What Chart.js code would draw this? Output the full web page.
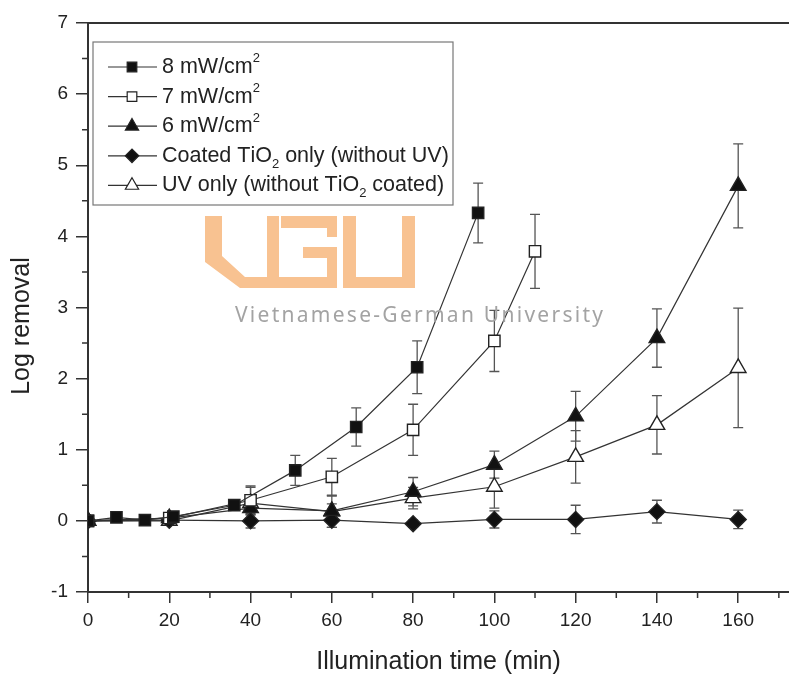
<!DOCTYPE html>
<html>
<head>
<meta charset="utf-8">
<script src="https://cdn.jsdelivr.net/npm/chart.js@4.4.1/dist/chart.umd.min.js"></script>
<style>
  html, body { margin: 0; padding: 0; background: #fff; overflow: hidden; }
  canvas { display: block; }
</style>
</head>
<body>
<canvas id="removalChart" width="789" height="675"></canvas>
<script>
// illumination times (min)
const times8 = [0, 7, 14, 21, 36, 51, 66, 81, 96];
const times7 = [0, 20, 40, 60, 80, 100, 110];
const timesLong = [0, 20, 40, 60, 80, 100, 120, 140, 160];

// log removal
const removal8 = [0, 0.05, 0.01, 0.06, 0.22, 0.71, 1.32, 2.16, 4.33];
const removal7 = [0, 0.04, 0.29, 0.62, 1.28, 2.53, 3.79];
const removal6 = [0, 0.04, 0.18, 0.14, 0.41, 0.79, 1.47, 2.57, 4.71];
const removalCoated = [0, 0.01, 0.0, 0.01, -0.04, 0.02, 0.02, 0.13, 0.02];
const removalUV = [0, 0.0, 0.25, 0.13, 0.32, 0.48, 0.9, 1.35, 2.15];

// error bar half widths
const err8 = [0, 0, 0, 0, 0.05, 0.21, 0.27, 0.37, 0.42];
const err7 = [0, 0, 0.2, 0.26, 0.36, 0.43, 0.52];
const err6 = [0, 0, 0.1, 0.1, 0.2, 0.19, 0.35, 0.41, 0.59];
const errCoated = [0, 0, 0.1, 0.1, 0.05, 0.12, 0.2, 0.16, 0.13];
const errUV = [0, 0, 0.22, 0.22, 0.15, 0.3, 0.37, 0.41, 0.84];

const seriesLabels = [
  '8 mW/cm²',
  '7 mW/cm²',
  '6 mW/cm²',
  'Coated TiO₂ only (without UV)',
  'UV only (without TiO₂ coated)',
];

const xTicks = [0, 20, 40, 60, 80, 100, 120, 140, 160];
const yTicks = [-1, 0, 1, 2, 3, 4, 5, 6, 7];
const yTitle = 'Log removal';

const toPoints = (xs, ys) => xs.map((x, i) => ({ x, y: ys[i] }));

const FONT = '"Liberation Sans", Arial, sans-serif';
Chart.defaults.font.family = FONT;
Chart.defaults.color = '#222';

function makeSet(label, xs, ys, errs, style, filled, radius) {
  return {
    label,
    data: toPoints(xs, ys),
    errors: errs,
    borderColor: '#333',
    borderWidth: 1.2,
    pointStyle: style,
    pointRadius: radius,
    pointHoverRadius: radius,
    pointBackgroundColor: filled ? '#111' : '#fff',
    pointBorderColor: '#222',
    pointBorderWidth: 1.4,
    fill: false,
    tension: 0,
  };
}

// error bars, drawn under the markers
const errorBars = {
  id: 'errorBars',
  beforeDatasetsDraw(chart) {
    const { ctx, scales: { y } } = chart;
    ctx.save();
    ctx.strokeStyle = '#555';
    ctx.lineWidth = 1.3;
    chart.data.datasets.forEach((ds, di) => {
      const meta = chart.getDatasetMeta(di);
      meta.data.forEach((pt, i) => {
        const e = ds.errors[i];
        if (!e) return;
        const v = ds.data[i].y;
        const top = y.getPixelForValue(v + e);
        const bot = y.getPixelForValue(v - e);
        ctx.beginPath();
        ctx.moveTo(pt.x, top);
        ctx.lineTo(pt.x, bot);
        ctx.moveTo(pt.x - 5, top);
        ctx.lineTo(pt.x + 5, top);
        ctx.moveTo(pt.x - 5, bot);
        ctx.lineTo(pt.x + 5, bot);
        ctx.stroke();
      });
    });
    ctx.restore();
  },
};

// top frame line, minor ticks, y title
const frameAndMinor = {
  id: 'frameAndMinor',
  afterDraw(chart) {
    const { ctx, chartArea: { left, top, right, bottom }, scales: { x, y } } = chart;
    ctx.save();
    ctx.strokeStyle = '#333';
    ctx.lineWidth = 2;
    ctx.beginPath();
    ctx.moveTo(left, top);
    ctx.lineTo(right, top);
    ctx.stroke();
    ctx.lineWidth = 1.5;
    ctx.beginPath();
    for (let t = 10; t < x.max; t += 20) {
      const px = x.getPixelForValue(t);
      ctx.moveTo(px, bottom);
      ctx.lineTo(px, bottom + 6);
    }
    for (let v = -0.5; v < y.max; v += 1) {
      const py = y.getPixelForValue(v);
      ctx.moveTo(left, py);
      ctx.lineTo(left - 6, py);
    }
    ctx.stroke();
    ctx.translate(29, 326);
    ctx.rotate(-Math.PI / 2);
    ctx.fillStyle = '#222';
    ctx.font = `25px ${FONT}`;
    ctx.textAlign = 'center';
    ctx.textBaseline = 'alphabetic';
    ctx.fillText(yTitle, 0, 0);
    ctx.restore();
  },
};

// text with ² / ₂ drawn as small raised / lowered digits
function drawRich(ctx, text, x, y, size) {
  let cx = x;
  for (const ch of text) {
    if (ch === '²' || ch === '₂') {
      ctx.font = `${Math.round(size * 0.6)}px ${FONT}`;
      const dy = ch === '²' ? -size * 0.38 : size * 0.38;
      ctx.fillText('2', cx, y + dy);
      cx += ctx.measureText('2').width;
    } else {
      ctx.font = `${size}px ${FONT}`;
      ctx.fillText(ch, cx, y);
      cx += ctx.measureText(ch).width;
    }
  }
}

const boxLegend = {
  id: 'boxLegend',
  afterDraw(chart) {
    const { ctx } = chart;
    ctx.save();
    ctx.fillStyle = '#fff';
    ctx.strokeStyle = '#777';
    ctx.lineWidth = 1.2;
    ctx.fillRect(93, 42, 360, 163);
    ctx.strokeRect(93, 42, 360, 163);
    chart.data.datasets.forEach((ds, i) => {
      const yy = 67 + i * 29.6;
      ctx.strokeStyle = '#333';
      ctx.lineWidth = 1.2;
      ctx.beginPath();
      ctx.moveTo(108, yy);
      ctx.lineTo(157, yy);
      ctx.stroke();
      ctx.fillStyle = ds.pointBackgroundColor;
      ctx.strokeStyle = ds.pointBorderColor;
      ctx.lineWidth = 1.2;
      Chart.helpers.drawPoint(ctx, {
        pointStyle: ds.pointStyle,
        radius: ds.pointRadius * 0.85,
        rotation: 0,
        borderWidth: 1.2,
      }, 132, yy);
      ctx.fillStyle = '#222';
      ctx.textBaseline = 'middle';
      ctx.textAlign = 'left';
      drawRich(ctx, ds.label, 162, yy, 21.5);
    });
    ctx.restore();
  },
};

// university watermark printed over the figure
const watermark = {
  id: 'watermark',
  afterDraw(chart) {
    const { ctx } = chart;
    ctx.save();
    ctx.fillStyle = '#f8c291';
    ctx.beginPath();
    ctx.moveTo(205, 216);
    ctx.lineTo(222, 216);
    ctx.lineTo(222, 256);
    ctx.lineTo(245, 277);
    ctx.lineTo(267, 277);
    ctx.lineTo(267, 216);
    ctx.lineTo(279, 216);
    ctx.lineTo(279, 288);
    ctx.lineTo(240, 288);
    ctx.lineTo(205, 262);
    ctx.closePath();
    ctx.fill();
    ctx.fillRect(281, 216, 56, 12);
    ctx.fillRect(327, 216, 10, 21);
    ctx.fillRect(267, 277, 70, 11);
    ctx.fillRect(327, 247, 10, 41);
    ctx.fillRect(303, 247, 34, 11);
    ctx.fillRect(343, 216, 13, 72);
    ctx.fillRect(402, 216, 13, 72);
    ctx.fillRect(343, 277, 72, 11);
    ctx.fillStyle = '#a3a3a3';
    ctx.font = '21px "Noto Sans", "DejaVu Sans", sans-serif';
    ctx.textBaseline = 'alphabetic';
    const txt = 'Vietnamese-German University';
    const w = ctx.measureText(txt).width;
    ctx.letterSpacing = `${(368 - w) / (txt.length - 1)}px`;
    ctx.fillText(txt, 235, 322);
    ctx.restore();
  },
};

const ctxMain = document.getElementById('removalChart').getContext('2d');
new Chart(ctxMain, {
  type: 'line',
  data: {
    datasets: [
      makeSet(seriesLabels[0], times8, removal8, err8, 'rect', true, 8),
      makeSet(seriesLabels[1], times7, removal7, err7, 'rect', false, 8),
      makeSet(seriesLabels[2], timesLong, removal6, err6, 'triangle', true, 9),
      makeSet(seriesLabels[3], timesLong, removalCoated, errCoated, 'rectRot', true, 8),
      makeSet(seriesLabels[4], timesLong, removalUV, errUV, 'triangle', false, 9),
    ],
  },
  options: {
    responsive: false,
    animation: false,
    devicePixelRatio: 1,
    layout: { autoPadding: false, padding: { top: 23, right: 0, left: 0, bottom: 0 } },
    scales: {
      x: {
        type: 'linear',
        min: 0,
        max: 172.5,
        afterFit: (scale) => {
          scale.height = 83;
          scale.paddingLeft = 0;
          scale.paddingRight = 0;
        },
        afterBuildTicks: (scale) => { scale.ticks = xTicks.map((v) => ({ value: v })); },
        grid: { drawOnChartArea: false, tickLength: 11, color: '#333', lineWidth: 1.5 },
        border: { color: '#333', width: 2 },
        ticks: { font: { size: 19 }, padding: 6, maxRotation: 0, color: '#222' },
        title: {
          display: true,
          text: 'Illumination time (min)',
          font: { size: 25, lineHeight: 1 },
          padding: { top: 1, bottom: 0 },
          color: '#222',
        },
      },
      y: {
        min: -1,
        max: 7,
        afterFit: (scale) => {
          scale.width = 88;
          scale.paddingTop = 0;
          scale.paddingBottom = 0;
        },
        afterBuildTicks: (scale) => { scale.ticks = yTicks.map((v) => ({ value: v })); },
        grid: { drawOnChartArea: false, tickLength: 12, color: '#333', lineWidth: 1.5 },
        border: { color: '#333', width: 2 },
        ticks: { font: { size: 19 }, padding: 8, color: '#222' },
      },
    },
    plugins: {
      legend: { display: false },
      tooltip: { enabled: false },
    },
  },
  plugins: [errorBars, frameAndMinor, boxLegend, watermark],
});
</script>
</body>
</html>
